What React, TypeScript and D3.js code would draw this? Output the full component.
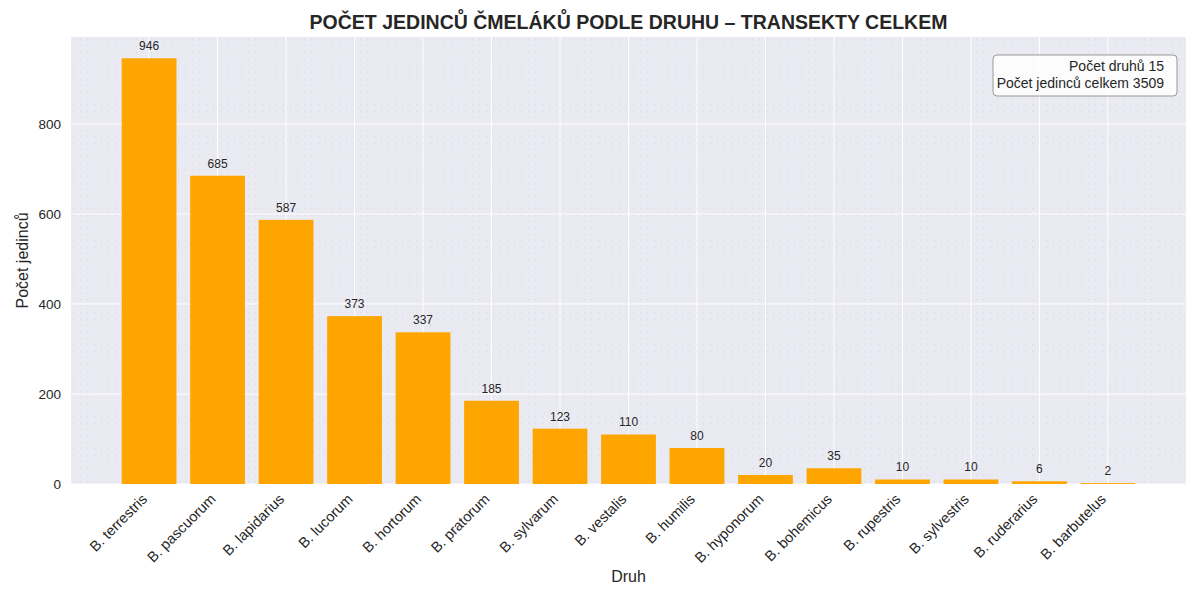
import { useEffect } from 'react';
import * as d3 from 'd3';

const species = [
  'B. terrestris', 'B. pascuorum', 'B. lapidarius', 'B. lucorum', 'B. hortorum',
  'B. pratorum', 'B. sylvarum', 'B. vestalis', 'B. humilis', 'B. hyponorum',
  'B. bohemicus', 'B. rupestris', 'B. sylvestris', 'B. ruderarius', 'B. barbutelus',
];
const counts = [946, 685, 587, 373, 337, 185, 123, 110, 80, 20, 35, 10, 10, 6, 2];
const yTicks = [0, 200, 400, 600, 800];
const legendLines = ['Počet druhů 15', 'Počet jedinců celkem 3509'];

const W = 1200;
const H = 600;
const margin = { top: 37, right: 14, bottom: 116, left: 71 };
const FONT = '"Liberation Sans", Arial, sans-serif';
const TEXT = '#262626';

export default function App() {
  useEffect(() => {
    document.body.style.margin = '0';
  }, []);

  const innerW = W - margin.left - margin.right;
  const innerH = H - margin.top - margin.bottom;

  // matplotlib-like linear x with 5% margins around bars
  const n = species.length;
  const span = n - 1 + 0.8;
  const x = d3.scaleLinear()
    .domain([-0.4 - span * 0.05, n - 1 + 0.4 + span * 0.05])
    .range([0, innerW]);
  const barW = x(0.8) - x(0);

  const y = d3.scaleLinear()
    .domain([0, d3.max(counts)! * 1.05])
    .range([innerH, 0]);

  return (
    <svg width={W} height={H} style={{ display: 'block', fontFamily: FONT }}>
      <defs>
        <pattern id="dots" width="7" height="6.5" patternUnits="userSpaceOnUse">
          <rect x="2" y="2" width="1.2" height="1.2" fill="#dadae6" />
        </pattern>
      </defs>
      <rect width={W} height={H} fill="#fff" />
      <text x={margin.left + innerW / 2} y={29} textAnchor="middle" fontSize={19.5} fontWeight="bold" fill={TEXT}>
        POČET JEDINCŮ ČMELÁKŮ PODLE DRUHU – TRANSEKTY CELKEM
      </text>
      <g transform={`translate(${margin.left},${margin.top})`}>
        <rect width={innerW} height={innerH} fill="#eaeaf2" />
        <rect width={innerW} height={innerH} fill="url(#dots)" />
        {yTicks.map(t => (
          <line key={t} x1={0} x2={innerW} y1={y(t)} y2={y(t)} stroke="#fff" strokeWidth={1} />
        ))}
        {species.map((s, i) => (
          <line key={s} x1={x(i)} x2={x(i)} y1={0} y2={innerH} stroke="#fff" strokeWidth={1} />
        ))}
        {counts.map((c, i) => (
          <rect key={i} x={x(i) - barW / 2} y={y(c)} width={barW} height={innerH - y(c)} fill="#FFA500" />
        ))}
        {counts.map((c, i) => (
          <text key={i} x={x(i)} y={y(c) - 8} textAnchor="middle" fontSize={12} fill={TEXT}>{c}</text>
        ))}
        {yTicks.map(t => (
          <text key={t} x={-10} y={y(t)} dy="0.35em" textAnchor="end" fontSize={13.5} fill={TEXT}>{t}</text>
        ))}
        {species.map((s, i) => (
          <text
            key={s}
            transform={`translate(${x(i) - 1},${innerH + 16}) rotate(-45)`}
            textAnchor="end"
            fontSize={14.5}
            fill={TEXT}
          >{s}</text>
        ))}
        <g transform={`translate(${innerW - 193},${18})`}>
          <rect width={184} height={41} rx={4} fill="#fff" fillOpacity={0.85} stroke="#999" strokeWidth={1} />
          {legendLines.map((l, i) => (
            <text key={l} x={171} y={16 + i * 17} textAnchor="end" fontSize={14} fill={TEXT}>{l}</text>
          ))}
        </g>
      </g>
      <text x={margin.left + innerW / 2} y={582} textAnchor="middle" fontSize={16} fill={TEXT}>Druh</text>
      <text transform={`translate(28,${margin.top + innerH / 2}) rotate(-90)`} textAnchor="middle" fontSize={16} fill={TEXT}>
        Počet jedinců
      </text>
    </svg>
  );
}
